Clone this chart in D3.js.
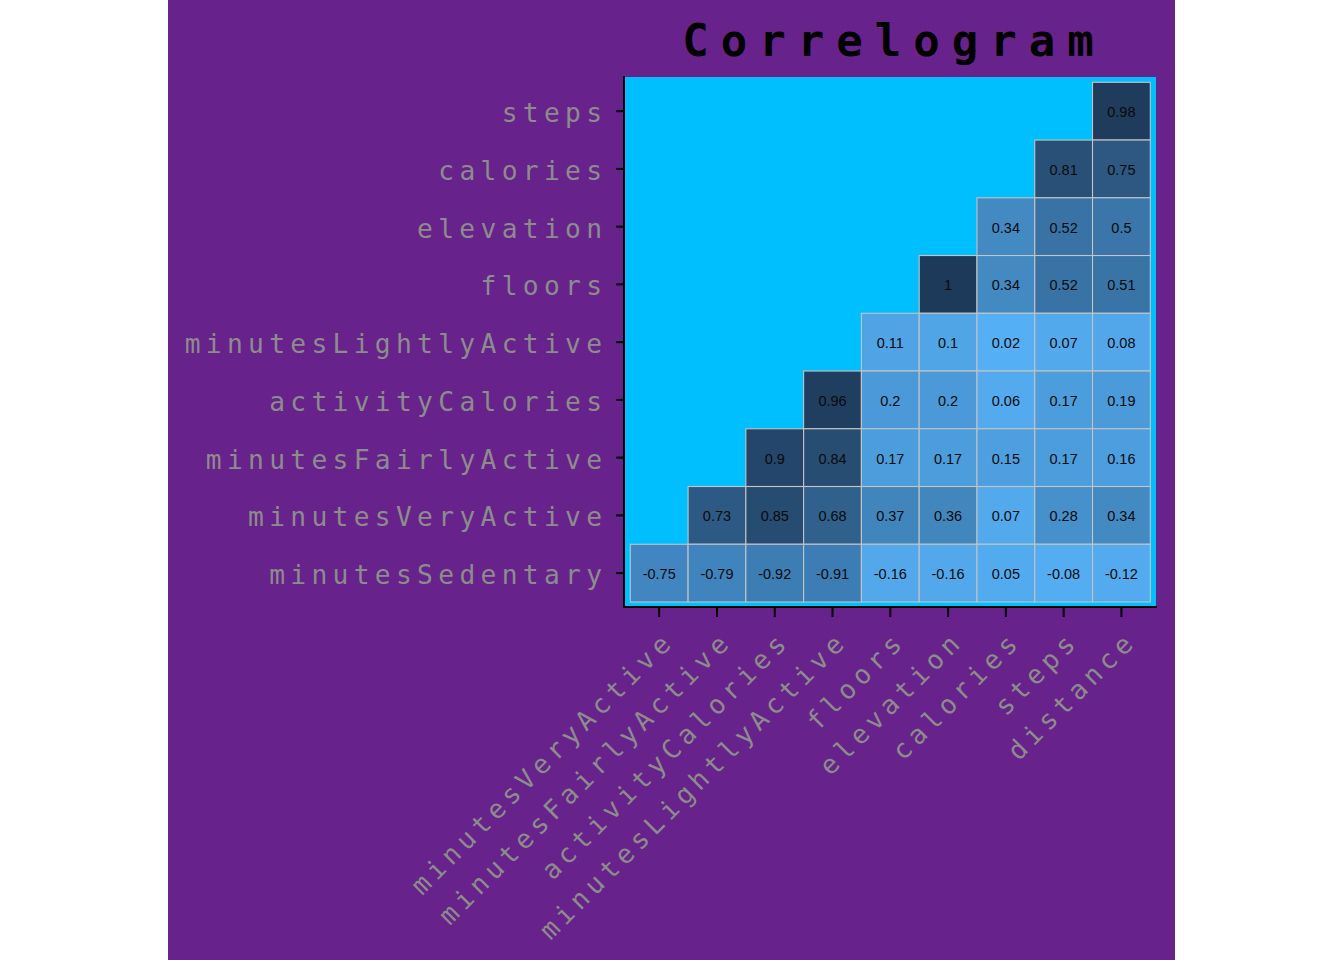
<!DOCTYPE html>
<html>
<head>
<meta charset="utf-8">
<script src="https://cdn.jsdelivr.net/npm/d3@7"></script>
<style>
  html, body { margin: 0; padding: 0; background: #ffffff; }
  svg { display: block; }
</style>
</head>
<body>
<svg id="chart" width="1344" height="960"></svg>
<script>
// Column (x) categories, left to right
const xCategories = ["minutesVeryActive", "minutesFairlyActive", "activityCalories", "minutesLightlyActive", "floors", "elevation", "calories", "steps", "distance"];
// Row (y) categories, top to bottom
const yCategories = ["steps", "calories", "elevation", "floors", "minutesLightlyActive", "activityCalories", "minutesFairlyActive", "minutesVeryActive", "minutesSedentary"];

// Correlation values per row (each row's cells end at the last column)
const rowSteps = [0.98];
const rowCalories = [0.81, 0.75];
const rowElevation = [0.34, 0.52, 0.5];
const rowFloors = [1, 0.34, 0.52, 0.51];
const rowMinutesLightlyActive = [0.11, 0.1, 0.02, 0.07, 0.08];
const rowActivityCalories = [0.96, 0.2, 0.2, 0.06, 0.17, 0.19];
const rowMinutesFairlyActive = [0.9, 0.84, 0.17, 0.17, 0.15, 0.17, 0.16];
const rowMinutesVeryActive = [0.73, 0.85, 0.68, 0.37, 0.36, 0.07, 0.28, 0.34];
const rowMinutesSedentary = [-0.75, -0.79, -0.92, -0.91, -0.16, -0.16, 0.05, -0.08, -0.12];

const titleText = "Correlogram";

const rows = [rowSteps, rowCalories, rowElevation, rowFloors, rowMinutesLightlyActive,
              rowActivityCalories, rowMinutesFairlyActive, rowMinutesVeryActive, rowMinutesSedentary];

const cells = [];
rows.forEach((vals, ri) => {
  const start = xCategories.length - vals.length;
  vals.forEach((v, k) => {
    cells.push({ x: xCategories[start + k], y: yCategories[ri], value: v });
  });
});

const svg = d3.select("#chart");

// plot background
svg.append("rect").attr("x", 168).attr("y", 0).attr("width", 1007).attr("height", 960).attr("fill", "#68228B");

const panel = { left: 624, right: 1156, top: 77, bottom: 607 };
svg.append("rect")
  .attr("x", panel.left).attr("y", panel.top)
  .attr("width", panel.right - panel.left).attr("height", panel.bottom - panel.top)
  .attr("fill", "#00BFFF");

const x = d3.scaleBand().domain(xCategories).range([630.3, 1150.3]).padding(0);
const y = d3.scaleBand().domain(yCategories).range([82.3, 602]).padding(0);

const color = d3.scaleLinear()
  .domain([-1, 0, 1])
  .range(["#3A78AE", "#56B1F7", "#1E3A5A"])
  .interpolate(d3.interpolateRgb);

const g = svg.append("g");
g.selectAll("rect.cell").data(cells).join("rect")
  .attr("class", "cell")
  .attr("x", d => x(d.x))
  .attr("y", d => y(d.y))
  .attr("width", x.bandwidth())
  .attr("height", y.bandwidth())
  .attr("fill", d => color(d.value))
  .attr("stroke", "#C4C4C4")
  .attr("stroke-width", 1.1);

g.selectAll("text.val").data(cells).join("text")
  .attr("class", "val")
  .attr("x", d => x(d.x) + x.bandwidth() / 2)
  .attr("y", d => y(d.y) + y.bandwidth() / 2 + 6)
  .attr("text-anchor", "middle")
  .attr("font-family", "'Liberation Sans', Arial, sans-serif")
  .attr("font-size", 14.5)
  .attr("fill", "#0a0a0a")
  .text(d => String(d.value));

// axes
const labelFont = "'DejaVu Sans Mono', monospace";
const ls = 5.3;
const labelColor = "#8C8C8C";

const yAxis = d3.axisLeft(y).tickSize(8).tickPadding(0);
const yg = svg.append("g").attr("transform", `translate(${panel.left},0)`).call(yAxis);
yg.select(".domain").remove();
yg.selectAll(".tick line").attr("stroke", "#000").attr("stroke-width", 2);
yg.selectAll(".tick text")
  .attr("x", -22 + ls)
  .attr("dy", 11)
  .attr("font-family", labelFont)
  .attr("font-size", 26.3)
  .attr("letter-spacing", ls)
  .attr("fill", labelColor);

const xAxis = d3.axisBottom(x).tickSize(9).tickPadding(0);
const xg = svg.append("g").attr("transform", `translate(0,${panel.bottom + 1})`).call(xAxis);
xg.select(".domain").remove();
xg.selectAll(".tick line").attr("stroke", "#000").attr("stroke-width", 2);
xg.selectAll(".tick text")
  .attr("y", 0).attr("dy", 0)
  .attr("text-anchor", "end")
  .attr("transform", "translate(13,38) rotate(-45)")
  .attr("dx", ls)
  .attr("font-family", labelFont)
  .attr("font-size", 26.3)
  .attr("letter-spacing", ls)
  .attr("fill", labelColor);

// axis lines
svg.append("line").attr("x1", panel.left).attr("x2", panel.left).attr("y1", panel.top - 1).attr("y2", panel.bottom + 1)
  .attr("stroke", "#000").attr("stroke-width", 2);
svg.append("line").attr("x1", panel.left - 1).attr("x2", panel.right + 1).attr("y1", panel.bottom).attr("y2", panel.bottom)
  .attr("stroke", "#000").attr("stroke-width", 2);

// title
svg.append("text")
  .attr("x", (panel.left + panel.right) / 2 + 4)
  .attr("y", 56)
  .attr("text-anchor", "middle")
  .attr("font-family", labelFont)
  .attr("font-weight", "bold")
  .attr("font-size", 44)
  .attr("letter-spacing", 12)
  .attr("fill", "#000")
  .text(titleText);
</script>
</body>
</html>
